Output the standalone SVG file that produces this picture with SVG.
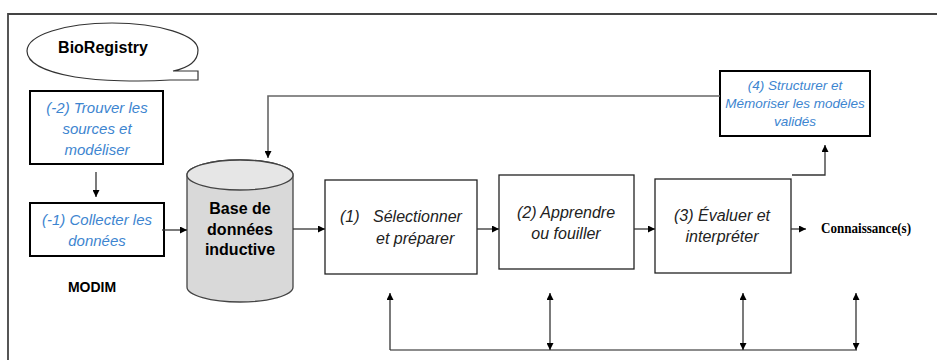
<svg xmlns="http://www.w3.org/2000/svg" width="937" height="360" viewBox="0 0 937 360">
<defs>
<marker id="ah" viewBox="0 0 10 10" refX="10" refY="5" markerWidth="7" markerHeight="7" markerUnits="userSpaceOnUse" orient="auto-start-reverse">
<path d="M0,0 L10,5 L0,10 z" fill="#000"/>
</marker>
<style>
.box{fill:#fff;stroke:#000;stroke-width:2}
.pbox{fill:#fff;stroke:#222;stroke-width:1.3}
.blue{font-family:"Liberation Sans",Arial,sans-serif;font-style:italic;fill:#3d85d0;text-anchor:middle}
.dark{font-family:"Liberation Sans",Arial,sans-serif;font-style:italic;fill:#222;font-size:16px}
.bold{font-family:"Liberation Sans",Arial,sans-serif;font-weight:bold;fill:#000}
.ln{fill:none;stroke:#333;stroke-width:1.3}
.gl{fill:none;stroke:#666;stroke-width:1.6}
</style>
</defs>
<rect width="937" height="360" fill="#fff"/>
<g id="frame">
<path d="M8,360 L8,14 L937,14" fill="none" stroke="#444" stroke-width="1.8"/>
</g>
<g id="bioregistry">
<path d="M173,71 L198,71 L198,80 L170,80 C140,82 100,81 75,77 C40,71 27,61 27,51 C27,35 65,23 112,23 C159,23 198,35 198,50 C198,62 188,68 173,71 z" fill="#fff" stroke="#333" stroke-width="1.2"/>
<text x="103" y="53" class="bold" font-size="16" text-anchor="middle">BioRegistry</text>
</g>
<g id="n-2">
<rect x="30" y="91" width="133" height="73" class="box"/>
<text class="blue" font-size="15"><tspan x="97" y="113">(-2) Trouver les</tspan><tspan x="97" y="134">sources et</tspan><tspan x="97" y="155">modéliser</tspan></text>
</g>
<g id="n-1">
<rect x="30" y="203" width="134" height="53" class="box"/>
<text class="blue" font-size="15"><tspan x="97" y="225">(-1) Collecter les</tspan><tspan x="97" y="246">données</tspan></text>
</g>
<g id="modim">
<text x="92" y="292" class="bold" font-size="14" text-anchor="middle">MODIM</text>
</g>
<g id="db">
<path d="M187,175 L187,287 A53,15 0 0 0 293,287 L293,175 A53,15 0 0 0 187,175 z" fill="#d9d9d9" stroke="#444" stroke-width="1.3"/>
<ellipse cx="240" cy="175" rx="53" ry="15" fill="#e6e6e6" stroke="#444" stroke-width="1.3"/>
<text class="bold" font-size="16" text-anchor="middle"><tspan x="240" y="214">Base de</tspan><tspan x="240" y="235">données</tspan><tspan x="240" y="255">inductive</tspan></text>
</g>
<g id="n1">
<rect x="325" y="180" width="152" height="94" class="pbox"/>
<text class="dark"><tspan x="340" y="222">(1)</tspan><tspan x="373" y="222">Sélectionner</tspan><tspan x="376" y="244">et préparer</tspan></text>
</g>
<g id="n2">
<rect x="499" y="175" width="135" height="94" class="pbox"/>
<text class="dark" text-anchor="middle"><tspan x="566" y="218">(2) Apprendre</tspan><tspan x="566" y="239">ou fouiller</tspan></text>
</g>
<g id="n3">
<rect x="655" y="179" width="136" height="94" class="pbox"/>
<text class="dark" text-anchor="middle"><tspan x="722" y="221">(3) Évaluer et</tspan><tspan x="722" y="242">interpréter</tspan></text>
</g>
<g id="n4">
<rect x="720" y="71" width="150" height="65" class="box"/>
<text class="blue" font-size="13.5"><tspan x="795" y="90">(4) Structurer et</tspan><tspan x="795" y="108">Mémoriser les modèles</tspan><tspan x="795" y="126">validés</tspan></text>
</g>
<g id="knowledge">
<text x="821" y="233" font-family="Liberation Serif,serif" font-weight="bold" font-size="15" textLength="90" lengthAdjust="spacingAndGlyphs">Connaissance(s)</text>
</g>
<g id="connectors">
<line x1="96" y1="172" x2="96" y2="197" class="ln" marker-end="url(#ah)"/>
<line x1="162" y1="230" x2="187" y2="230" class="ln" marker-end="url(#ah)"/>
<line x1="293" y1="229" x2="325" y2="229" class="ln" marker-end="url(#ah)"/>
<line x1="477" y1="229" x2="499" y2="229" class="ln" marker-end="url(#ah)"/>
<line x1="634" y1="229" x2="655" y2="229" class="ln" marker-end="url(#ah)"/>
<line x1="791" y1="229" x2="806" y2="229" class="ln" marker-end="url(#ah)"/>
<polyline points="792,175 825,175 825,145" class="ln" marker-end="url(#ah)"/>
<polyline points="720,96 268,96 268,158" class="gl" marker-end="url(#ah)"/>
<polyline points="857,350 390,350" class="gl"/>
<line x1="390" y1="350" x2="390" y2="293" class="ln" marker-end="url(#ah)"/>
<line x1="550" y1="350" x2="550" y2="293" class="ln" marker-start="url(#ah)" marker-end="url(#ah)"/>
<line x1="743" y1="350" x2="743" y2="293" class="ln" marker-start="url(#ah)" marker-end="url(#ah)"/>
<line x1="856" y1="350" x2="856" y2="293" class="ln" marker-start="url(#ah)" marker-end="url(#ah)"/>
</g>
</svg>
